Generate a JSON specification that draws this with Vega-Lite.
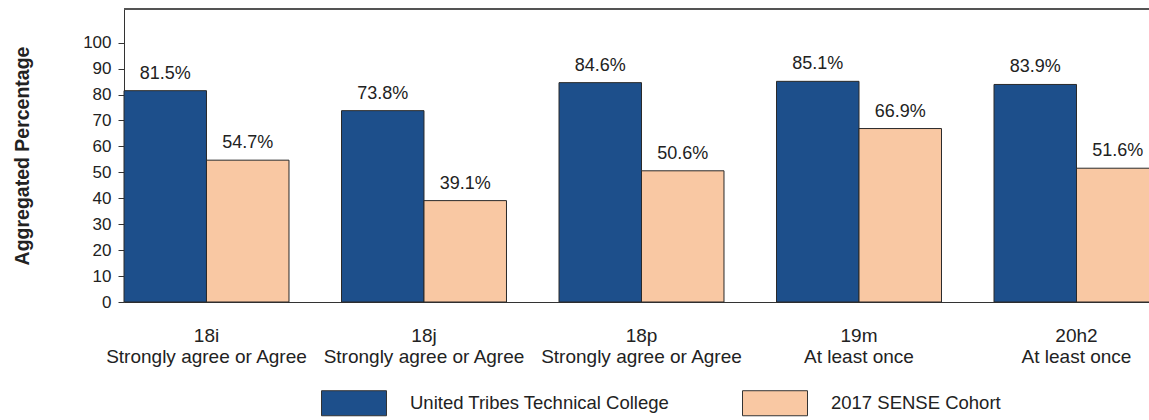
{
  "$schema": "https://vega.github.io/schema/vega-lite/v6.json",
  "width": 1025,
  "height": 293,
  "autosize": {"type": "none"},
  "padding": {"left": 124, "top": 9, "right": 0, "bottom": 118},
  "background": "white",
  "config": {"view": {"stroke": null}, "font": "Liberation Sans"},
  "data": {
    "values": [
      {"question": "18i|Strongly agree or Agree", "group": "United Tribes Technical College", "value": 81.5},
      {"question": "18i|Strongly agree or Agree", "group": "2017 SENSE Cohort", "value": 54.7},
      {"question": "18j|Strongly agree or Agree", "group": "United Tribes Technical College", "value": 73.8},
      {"question": "18j|Strongly agree or Agree", "group": "2017 SENSE Cohort", "value": 39.1},
      {"question": "18p|Strongly agree or Agree", "group": "United Tribes Technical College", "value": 84.6},
      {"question": "18p|Strongly agree or Agree", "group": "2017 SENSE Cohort", "value": 50.6},
      {"question": "19m|At least once", "group": "United Tribes Technical College", "value": 85.1},
      {"question": "19m|At least once", "group": "2017 SENSE Cohort", "value": 66.9},
      {"question": "20h2|At least once", "group": "United Tribes Technical College", "value": 83.9},
      {"question": "20h2|At least once", "group": "2017 SENSE Cohort", "value": 51.6}
    ]
  },
  "encoding": {
    "x": {
      "field": "question", "type": "nominal", "sort": null,
      "scale": {"range": [0, 1035], "paddingInner": 0.2414, "paddingOuter": 0},
      "axis": {
        "title": null, "ticks": false, "labelAngle": 0,
        "labelExpr": "split(datum.value, '|')", "labelLimit": 0,
        "labelFontSize": 19, "labelLineHeight": 21, "labelPadding": 24,
        "labelColor": "#222", "domainColor": "#333", "domainWidth": 1
      }
    },
    "xOffset": {
      "field": "group", "type": "nominal",
      "sort": ["United Tribes Technical College", "2017 SENSE Cohort"],
      "scale": {"paddingInner": 0, "paddingOuter": 0}
    },
    "y": {
      "field": "value", "type": "quantitative",
      "scale": {"domain": [0, 113], "nice": false},
      "axis": {
        "values": [0, 10, 20, 30, 40, 50, 60, 70, 80, 90, 100],
        "labelOverlap": false,
        "grid": false, "tickSize": 6, "labelPadding": 7,
        "labelFontSize": 17, "labelColor": "#222",
        "domainColor": "#333", "tickColor": "#333",
        "title": "Aggregated Percentage", "titleFontSize": 19.5,
        "titleFontWeight": "bold", "titleColor": "#222",
        "titleX": -102, "titleBaseline": "middle"
      }
    }
  },
  "layer": [
    {
      "mark": {"type": "bar", "stroke": "#2a2a2a", "strokeWidth": 1},
      "encoding": {
        "fill": {
          "field": "group", "type": "nominal",
          "scale": {
            "domain": ["United Tribes Technical College", "2017 SENSE Cohort"],
            "range": ["#1d4f8b", "#f9c8a3"]
          },
          "legend": {
            "title": null, "orient": "none", "direction": "horizontal",
            "legendX": 197, "legendY": 361, "padding": 0,
            "symbolType": "M-1,-0.385H1V0.385H-1Z", "symbolSize": 4225,
            "symbolStrokeColor": "#333", "symbolStrokeWidth": 1,
            "labelFontSize": 18.5, "labelColor": "#222", "labelOffset": 23,
            "labelLimit": 0, "columnPadding": 70
          }
        }
      }
    },
    {
      "mark": {
        "type": "text", "fontSize": 18, "dy": -12, "baseline": "alphabetic",
        "color": "#222", "text": {"expr": "format(datum.value, '.1f') + '%'"}
      }
    },
    {
      "mark": {"type": "rule", "color": "#555", "strokeWidth": 1},
      "encoding": {"x": null, "xOffset": null, "y": {"datum": 113}}
    }
  ]
}
